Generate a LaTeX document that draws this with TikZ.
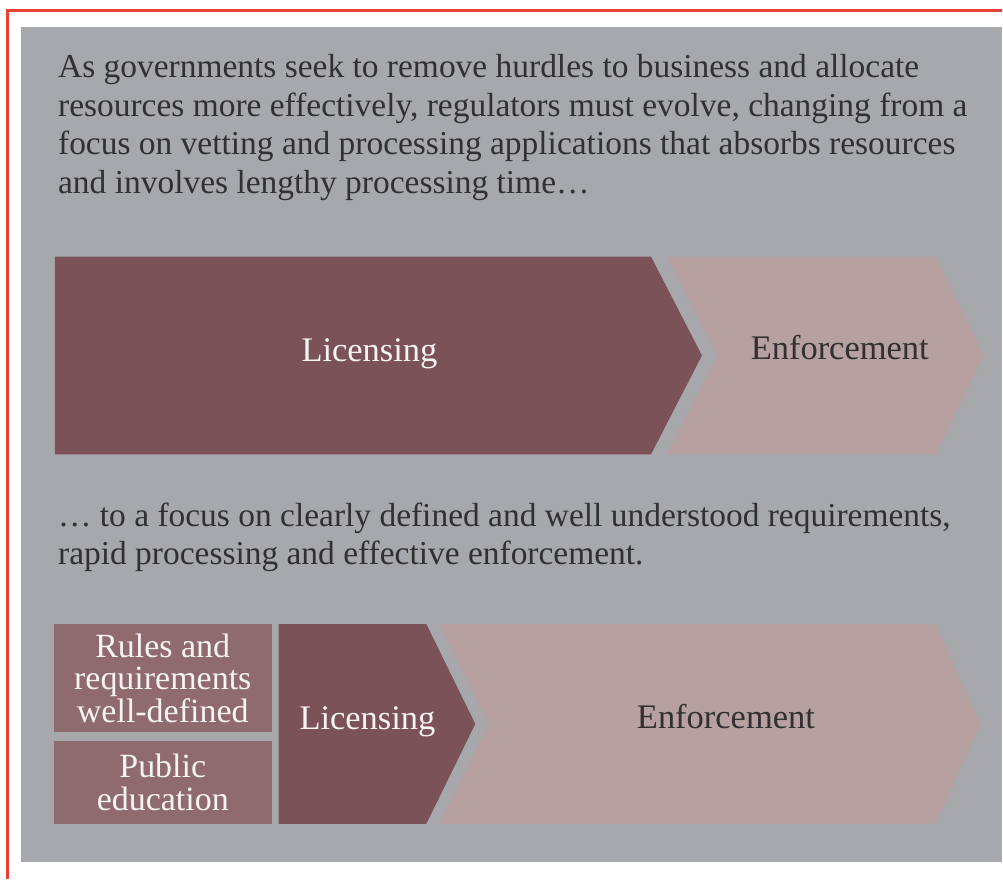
\documentclass[tikz,border=0pt]{standalone}
\usepackage{fontspec}
\setmainfont{Liberation Serif}
\usepackage{tikz}
\definecolor{framered}{RGB}{232,64,52}
\definecolor{panelgray}{RGB}{167,168,172}
\definecolor{licmaroon}{RGB}{122,82,88}
\definecolor{enfrose}{RGB}{182,160,160}
\definecolor{boxmauve}{RGB}{143,107,111}
\definecolor{textdark}{RGB}{50,48,48}
\definecolor{textlight}{RGB}{248,244,244}
\usetikzlibrary{positioning,calc}

\begin{document}
\begin{tikzpicture}[x=1pt,y=-1pt,
    para/.style={
        anchor=base west,
        inner sep=0pt,
        text=textdark,
        font=\fontsize{33.5}{38.5}\selectfont
    },
    chevtext/.style={anchor=base, inner sep=0pt, font=\fontsize{34.5}{34}\selectfont},
    sidebox/.style={
        rectangle,
        fill=boxmauve,
        minimum width=218pt,
        inner sep=0pt,
        align=center,
        text=textlight,
        font=\fontsize{34}{32.5}\selectfont
    }
]
    % Page and panel
    \fill[white] (0,0) rectangle (1003,880);
    \fill[panelgray] (21,27) rectangle (1003,863);
    \draw[framered, line width=3pt] (7.5,880) -- (7.5,10.5) -- (1003,10.5);

    % Opening text
    \node[para] (intro1) at (58,78) {As governments seek to remove hurdles to business and allocate};
    \node[para] (intro2) at (58,116.5) {resources more effectively, regulators must evolve, changing from a};
    \node[para] (intro3) at (58,155) {focus on vetting and processing applications that absorbs resources};
    \node[para] (intro4) at (58,193.5) {and involves lengthy processing time\dots};

    % Present model
    \fill[licmaroon] (55,257) -- (652,257) -- (703,356) -- (652,455) -- (55,455) -- cycle;
    \fill[enfrose] (668,257) -- (937,257) -- (985,356) -- (937,455) -- (668,455) -- (718,356) -- cycle;
    \node[chevtext, text=textlight] (lic1) at (370,362) {Licensing};
    \node[chevtext, text=textdark] (enf1) at (841,360) {Enforcement};

    % Closing text
    \node[para] (outro1) at (58,527) {\dots{} to a focus on clearly defined and well understood requirements,};
    \node[para] (outro2) at (58,565.5) {rapid processing and effective enforcement.};

    % Target model
    \node[sidebox, minimum height=108pt] (rules) at (163,679) {Rules and\\requirements\\well-defined};
    \node[sidebox, minimum height=83pt] (educ) at (163,783.5) {Public\\education};
    \fill[licmaroon] (279,625) -- (427,625) -- (476,725) -- (427,825) -- (279,825) -- cycle;
    \fill[enfrose] (440,625) -- (937,625) -- (982,725) -- (937,825) -- (440,825) -- (489,725) -- cycle;
    \node[chevtext, text=textlight] (lic2) at (368,731) {Licensing};
    \node[chevtext, text=textdark] (enf2) at (727,730) {Enforcement};
\end{tikzpicture}
\end{document}
